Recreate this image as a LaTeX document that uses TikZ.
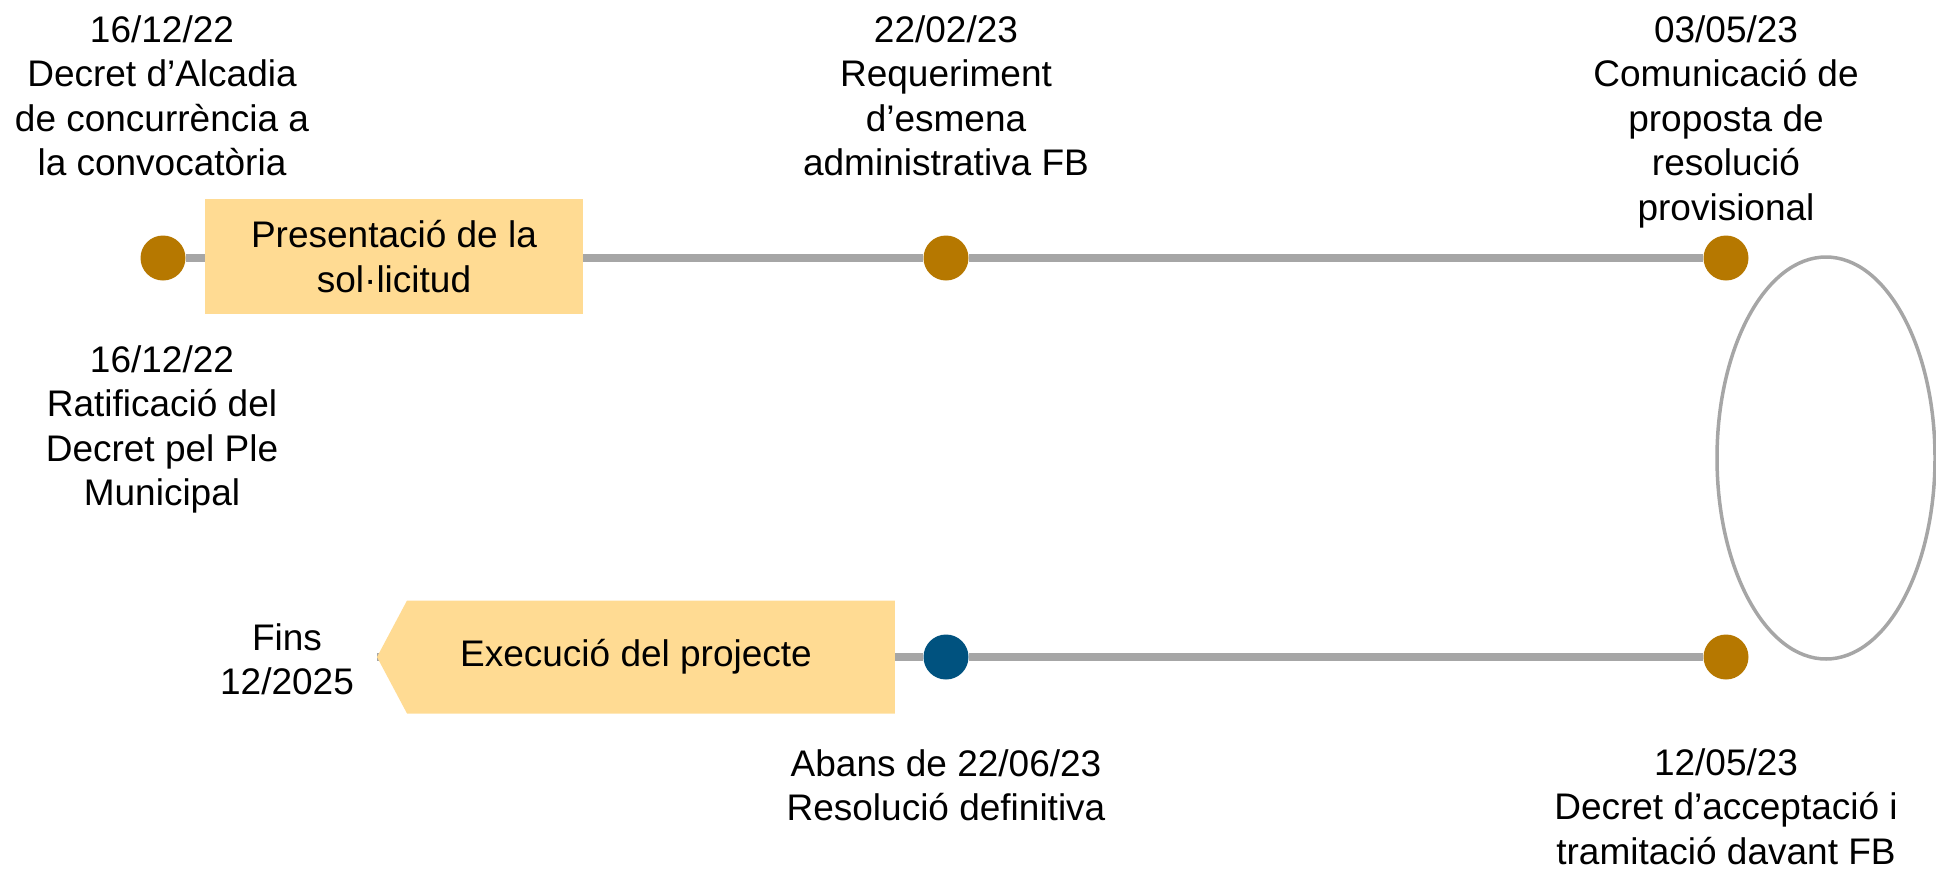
\documentclass[tikz,border=0pt]{standalone}
\usepackage{fontspec}
\setmainfont{Liberation Sans}
\usetikzlibrary{shapes.geometric,shapes.symbols,backgrounds}
\definecolor{milestone}{HTML}{B67800}
\definecolor{finalblue}{HTML}{00527F}
\definecolor{phasefill}{HTML}{FFDB93}
\definecolor{linegray}{HTML}{A6A6A6}
\tikzset{
  dot/.style={shape=circle,fill=milestone,minimum size=45pt,inner sep=0pt},
  note/.style={align=center,inner sep=0pt,anchor=north},
  phase/.style={fill=phasefill,align=center,inner sep=0pt},
  track/.style={draw=linegray,line width=7.5pt},
}

\begin{document}
\begin{tikzpicture}[x=1pt,y=-1pt,font=\fontsize{37}{44.5}\selectfont]
\useasboundingbox (0,0) rectangle (1936,868);
\node[dot] (1) at (163,258) {};
\node[dot] (2) at (946,258) {};
\node[dot] (3) at (1726,258) {};
\node[dot] (4) at (1726,657) {};
\node[dot,fill=finalblue] (5) at (946,657) {};
\node[shape=ellipse,draw=linegray,line width=3.5pt,minimum width=218pt,minimum height=402pt] (loop) at (1826,458) {};
\node[phase,minimum width=378pt,minimum height=115pt] (submit) at (394,256.5) {Presentació de la\\sol·licitud};
\node[phase,shape=signal,signal to=west,signal pointer angle=124,minimum width=518pt,minimum height=113pt] (exec) at (651,657) {\hspace*{-15pt}Execució del projecte\hspace*{15pt}};
\begin{scope}[on background layer]
\draw[track] (1) -- (2);
\draw[track] (2) -- (3);
\draw[track] (5) -- (4);
\draw[track] (5) -- (exec.west);
\end{scope}
\node[note] (t1) at (162,15) {16/12/22\\Decret d’Alcadia\\de concurrència a\\la convocatòria};
\node[note] (t2) at (946,15) {22/02/23\\Requeriment\\d’esmena\\administrativa FB};
\node[note] (t3) at (1726,15) {03/05/23\\Comunicació de\\proposta de\\resolució\\provisional};
\node[note] (t4) at (162,345) {16/12/22\\Ratificació del\\Decret pel Ple\\Municipal};
\node[note] (t5) at (287,623) {Fins\\12/2025};
\node[note] (t6) at (946,749) {Abans de 22/06/23\\Resolució definitiva};
\node[note] (t7) at (1726,748) {12/05/23\\Decret d’acceptació i\\tramitació davant FB};
\end{tikzpicture}
\end{document}
